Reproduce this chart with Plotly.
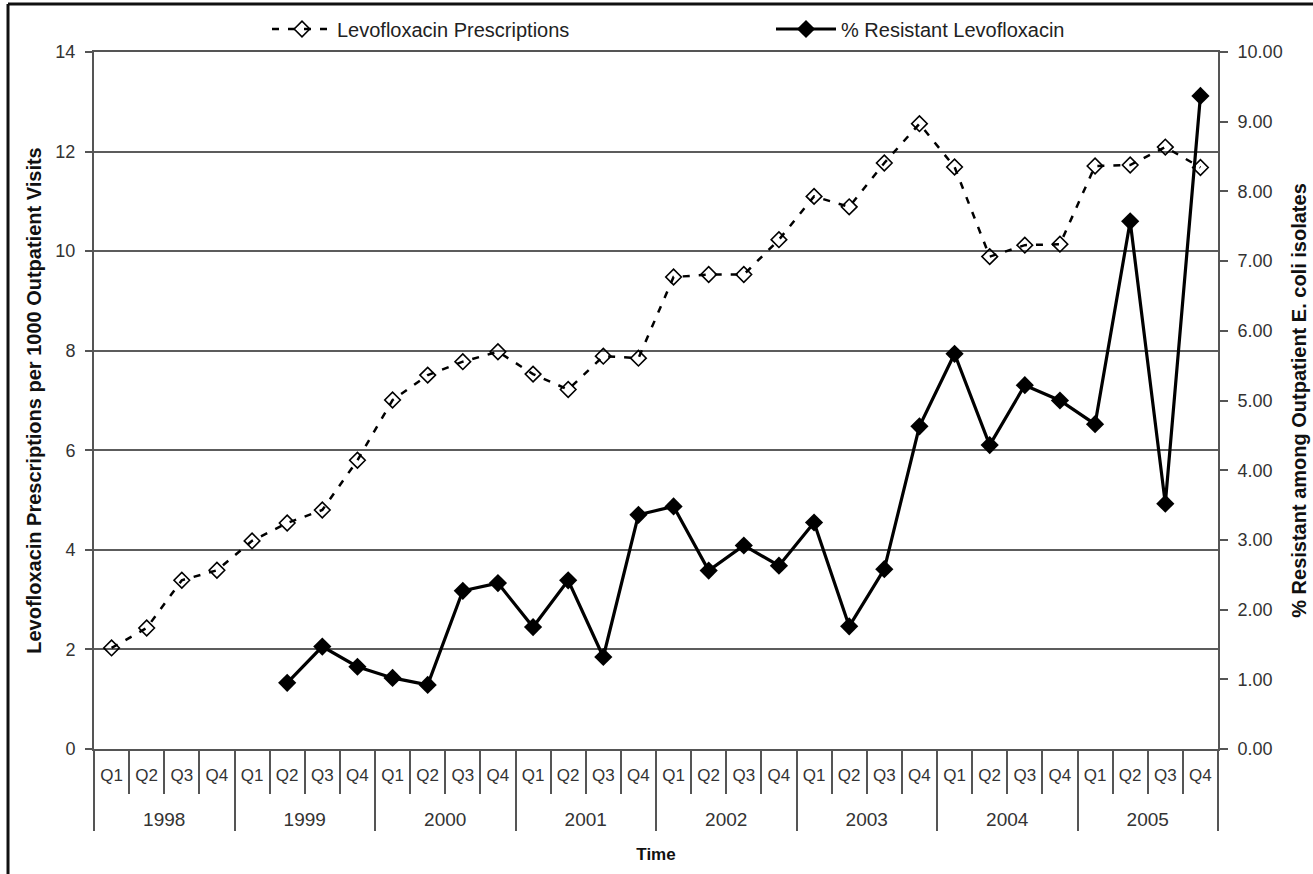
import plotly.graph_objects as go

# Quarterly series, 1998-2005
years = ["1998", "1999", "2000", "2001", "2002", "2003", "2004", "2005"]
quarters = ["Q1", "Q2", "Q3", "Q4"]

prescriptions = [
    2.03, 2.43, 3.39, 3.59,
    4.18, 4.54, 4.80, 5.80,
    7.01, 7.51, 7.78, 7.98,
    7.53, 7.22, 7.89, 7.85,
    9.48, 9.53, 9.53, 10.23,
    11.10, 10.89, 11.77, 12.56,
    11.69, 9.89, 10.12, 10.14,
    11.71, 11.73, 12.09, 11.68,
]

pct_resistant = [
    None, None, None, None,
    None, 0.95, 1.47, 1.18,
    1.02, 0.92, 2.27, 2.38,
    1.75, 2.42, 1.32, 3.36,
    3.48, 2.56, 2.92, 2.63,
    3.25, 1.76, 2.58, 4.63,
    5.67, 4.36, 5.22, 5.00,
    4.66, 7.57, 3.52, 9.37,
]

# Two-level category axis: quarters on the first row, years underneath.
# Tall padding spaces around each quarter label and a leading line break
# on each year label open up the gap between the two rows.
PAD = "<span style='font-size:27px'> </span>"
year_label = {y: "<br><span style='font-size:19px'>" + y + "</span>" for y in years}
quarter_label = {q: PAD + q + PAD for q in quarters}

x_year = [year_label[y] for y in years for _ in quarters]
x_quarter = [quarter_label[q] for _ in years for q in quarters]
x_multi = [x_year, x_quarter]

FONT = "Liberation Sans, Arial, sans-serif"
AXIS_GRAY = "#555555"
GRID_GRAY = "#5c5c5c"
TEXT_GRAY = "#333333"

fig = go.Figure()

fig.add_trace(go.Scatter(
    x=x_multi, y=prescriptions,
    name="Levofloxacin Prescriptions",
    mode="lines+markers",
    line=dict(color="black", width=2.5, dash="7px,9px"),
    marker=dict(symbol="diamond-open", size=12, color="black",
                line=dict(color="black", width=1.6)),
    yaxis="y",
    legend="legend",
))

fig.add_trace(go.Scatter(
    x=x_multi, y=pct_resistant,
    name="% Resistant Levofloxacin",
    mode="lines+markers",
    connectgaps=False,
    line=dict(color="black", width=3.2),
    marker=dict(symbol="diamond", size=14, color="black"),
    yaxis="y2",
    legend="legend2",
))

legend_common = dict(
    orientation="h",
    y=1.033, yanchor="middle",
    xanchor="left",
    font=dict(family=FONT, size=20, color="#222222"),
    itemwidth=60,
    bgcolor="rgba(0,0,0,0)",
)

fig.update_layout(
    width=1313, height=874,
    paper_bgcolor="white", plot_bgcolor="white",
    margin=dict(l=94, r=95, t=52, b=125, autoexpand=False),
    font=dict(family=FONT, size=17, color=TEXT_GRAY),
    showlegend=True,
    legend=dict(legend_common, x=(267 - 94) / 1124),
    legend2=dict(legend_common, x=(771 - 94) / 1124),
    xaxis=dict(
        type="multicategory",
        range=[-0.5, 31.5],
        tickangle=0,
        showline=True, linecolor=AXIS_GRAY, linewidth=2,
        mirror=True,  # top edge doubles as the gridline at 14
        ticks="outside", ticklen=43, tickcolor=AXIS_GRAY, tickwidth=1.5,
        ticklabelstandoff=10,
        showdividers=True, dividercolor=AXIS_GRAY, dividerwidth=1.5,
        showgrid=False, zeroline=False,
        tickfont=dict(family=FONT, size=17, color=TEXT_GRAY),
        title=dict(text="<b>Time</b>", font=dict(family=FONT, size=17, color="#111111"),
                   standoff=20),
    ),
    yaxis=dict(
        range=[0, 14], dtick=2, tick0=0,
        showline=True, linecolor=AXIS_GRAY, linewidth=2,
        ticks="outside", ticklen=7, tickcolor=AXIS_GRAY, tickwidth=1.5,
        ticklabelstandoff=6,
        showgrid=True, gridcolor=GRID_GRAY, gridwidth=1.6,
        zeroline=False,
        tickfont=dict(family=FONT, size=18, color=TEXT_GRAY),
        title=dict(text="<b>Levofloxacin Prescriptions per 1000 Outpatient Visits</b>",
                   font=dict(family=FONT, size=20, color="#111111"), standoff=8),
    ),
    yaxis2=dict(
        overlaying="y", side="right", anchor="x",
        range=[0, 10], dtick=1, tick0=0, tickformat=".2f",
        showline=True, linecolor=AXIS_GRAY, linewidth=2,
        ticks="outside", ticklen=8, tickcolor=AXIS_GRAY, tickwidth=1.5,
        ticklabelstandoff=6,
        showgrid=False, zeroline=False,
        tickfont=dict(family=FONT, size=18, color=TEXT_GRAY),
        title=dict(text="<b>% Resistant among Outpatient E. coli isolates</b>",
                   font=dict(family=FONT, size=20, color="#111111"), standoff=10),
    ),
    shapes=[
        # frame edges along the top and left of the figure
        dict(type="line", xref="paper", yref="paper",
             x0=-0.0765, x1=1.2, y0=1.069, y1=1.069,
             line=dict(color="#111111", width=3)),
        dict(type="line", xref="paper", yref="paper",
             x0=-0.0765, x1=-0.0765, y0=1.069, y1=-0.2,
             line=dict(color="#111111", width=3)),
    ],
)

fig.write_html("out.html")
